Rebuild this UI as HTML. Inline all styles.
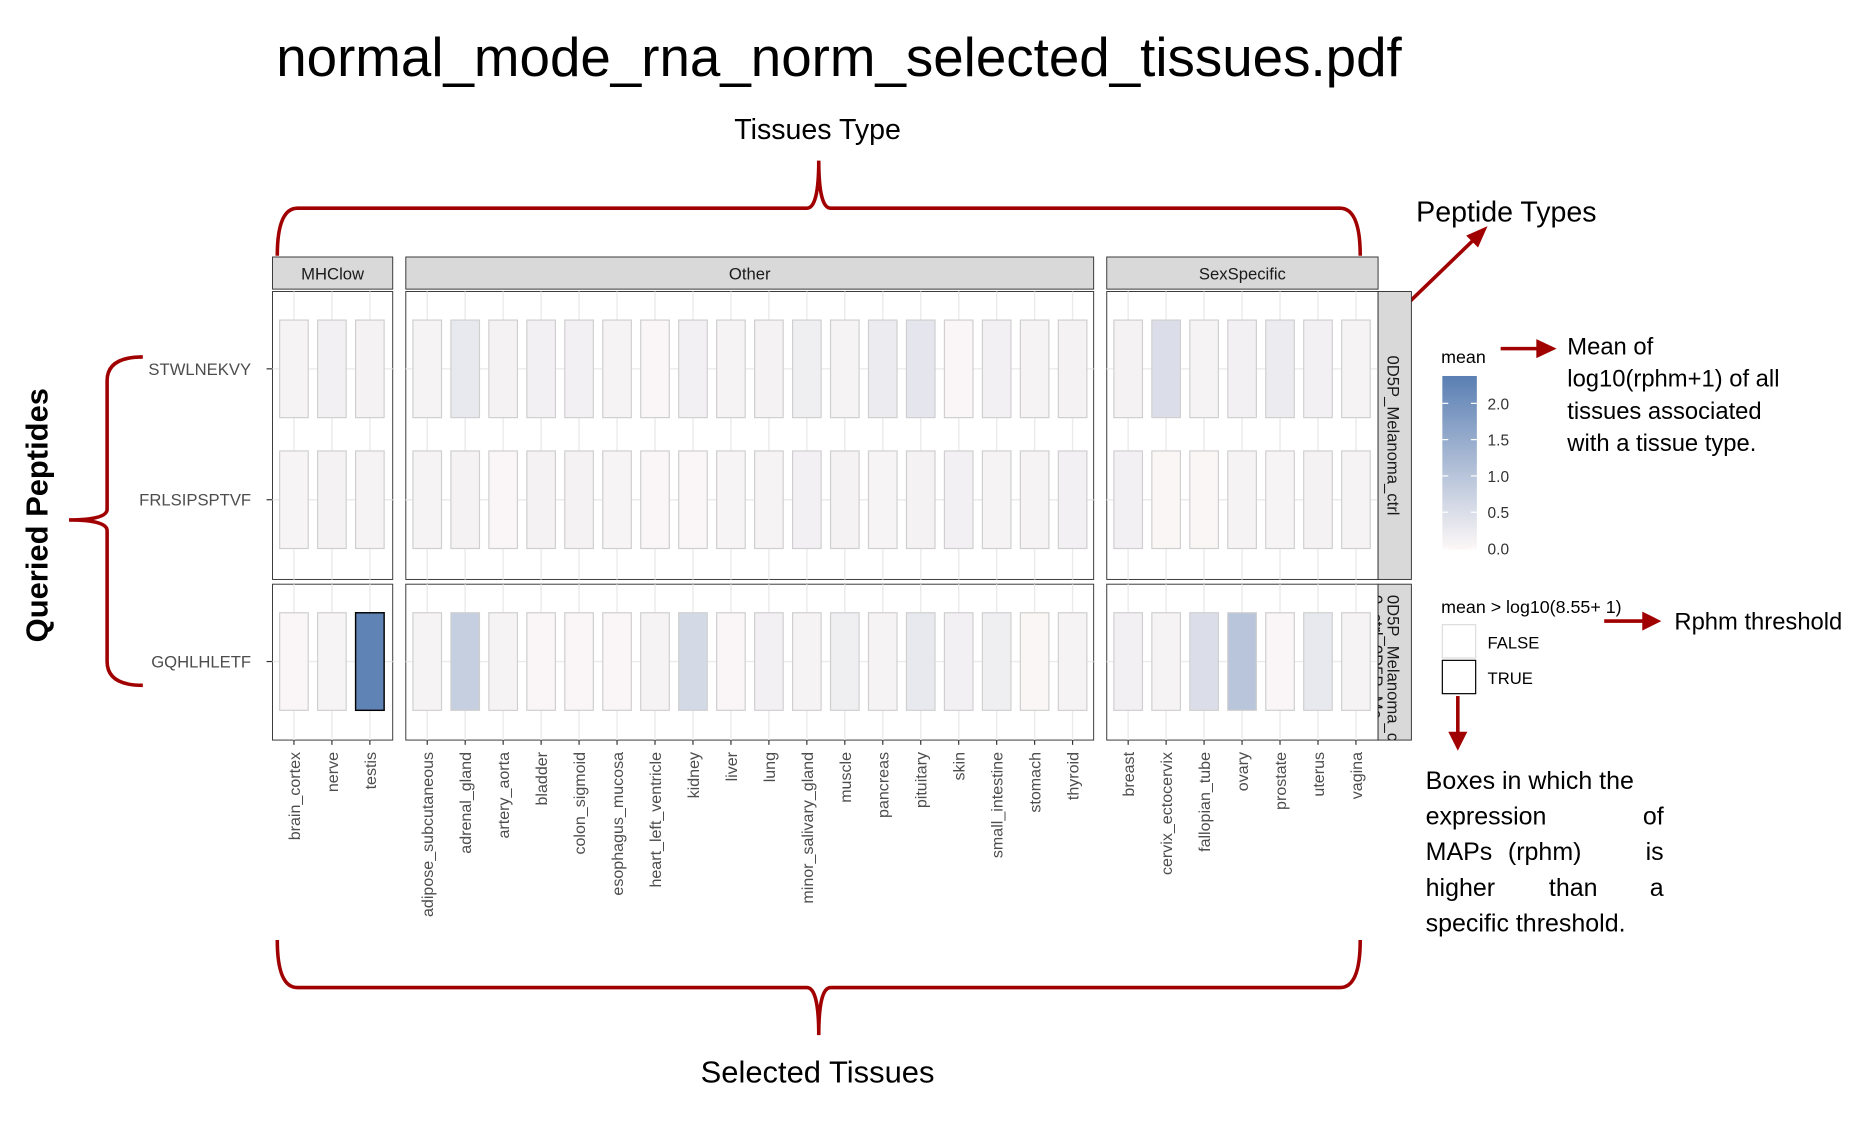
<!DOCTYPE html>
<html><head><meta charset="utf-8"><style>
html,body{margin:0;padding:0;background:#fff;}
svg{display:block;}
.ann{font-family:"Liberation Sans Narrow","Liberation Sans",sans-serif;fill:#000;}
.ax{font-family:"Liberation Sans",sans-serif;fill:#4d4d4d;}
</style></head><body>
<svg id="chart" width="1866" height="1122" viewBox="0 0 1568 943" preserveAspectRatio="none" xmlns="http://www.w3.org/2000/svg">
<defs>
<linearGradient id="grad" x1="0" y1="1" x2="0" y2="0">
<stop offset="0" stop-color="#fdf8f7"/><stop offset="1" stop-color="#5a7fb3"/>
</linearGradient>
</defs>
<text class="ann" x="705" y="64" font-size="46" text-anchor="middle">normal_mode_rna_norm_selected_tissues.pdf</text>
<text class="ann" x="687" y="117" font-size="24" text-anchor="middle">Tissues Type</text>
<path d="M233,215 Q233,175 250,175 L678,175 Q688,175 688,135 Q688,175 698,175 L1126,175 Q1143,175 1143,215" fill="none" stroke="#a00000" stroke-width="3"/>
<text class="ann" x="1190" y="186" font-size="24">Peptide Types</text>
<g><line x1="1182" y1="256" x2="1242" y2="198" stroke="#a00000" stroke-width="3"/><polygon points="1250,190 1232,198 1242,208" fill="#a00000"/></g>
<text class="ann" transform="translate(40,433) rotate(-90)" font-size="26" text-anchor="middle" font-weight="bold" style="font-family:'Liberation Sans',sans-serif">Queried Peptides</text>
<path d="M120,300 Q90,300 90,320 L90,428 Q90,437 58,437 Q90,437 90,446 L90,556 Q90,576 120,576" fill="none" stroke="#a00000" stroke-width="3"/>
<path d="M233,790 Q233,830 250,830 L678,830 Q688,830 688,870 Q688,830 698,830 L1126,830 Q1143,830 1143,790" fill="none" stroke="#a00000" stroke-width="3"/>
<text class="ann" x="687" y="910" font-size="26" text-anchor="middle">Selected Tissues</text>
<g id="plot"></g>
<g>
<text class="ax" x="1211" y="305" font-size="15" style="fill:#000">mean</text>
<rect x="1212" y="316" width="29" height="146" fill="url(#grad)"/>
<g id="cbticks"></g>
</g>
<g><line x1="1261" y1="293" x2="1293" y2="293" stroke="#a00000" stroke-width="3"/><polygon points="1308,293 1291,285 1291,301" fill="#a00000"/></g>
<g class="ann" font-size="20">
<text x="1317" y="298">Mean of</text><text x="1317" y="325">log10(rphm+1) of all</text><text x="1317" y="352">tissues associated</text><text x="1317" y="379">with a tissue type.</text></g>
<g>
<text x="1211" y="515" font-size="15" style="font-family:'Liberation Sans',sans-serif">mean &gt; log10(8.55+ 1)</text>
<rect x="1212" y="525" width="28" height="28" fill="#fff" stroke="#ddd"/>
<rect x="1212" y="555" width="28" height="28" fill="#fff" stroke="#000"/>
<text x="1250" y="545" font-size="14" style="font-family:'Liberation Sans',sans-serif">FALSE</text>
<text x="1250" y="575" font-size="14" style="font-family:'Liberation Sans',sans-serif">TRUE</text>
</g>
<g><line x1="1348" y1="522" x2="1382" y2="522" stroke="#a00000" stroke-width="3"/><polygon points="1396,522 1380,514 1380,530" fill="#a00000"/></g>
<text class="ann" x="1407" y="529" font-size="20">Rphm threshold</text>
<g><line x1="1225" y1="585" x2="1225" y2="617" stroke="#a00000" stroke-width="3"/><polygon points="1225,631 1217,615 1233,615" fill="#a00000"/></g>
<g class="ann" font-size="21">
<text x="1198" y="663">Boxes in which the</text>
<text x="1198" y="693">expression</text><text x="1398" y="693" text-anchor="end">of</text>
<text x="1198" y="723">MAPs</text><text x="1298" y="723" text-anchor="middle">(rphm)</text><text x="1398" y="723" text-anchor="end">is</text>
<text x="1198" y="753">higher</text><text x="1322" y="753" text-anchor="middle">than</text><text x="1398" y="753" text-anchor="end">a</text>
<text x="1198" y="783">specific threshold.</text></g>
</svg>
<script>
const groups=["MHClow","Other","SexSpecific"];
const tissuesMHC=["brain_cortex","nerve","testis"];
const tissuesOther=["adipose_subcutaneous","adrenal_gland","artery_aorta","bladder","colon_sigmoid","esophagus_mucosa","heart_left_ventricle","kidney","liver","lung","minor_salivary_gland","muscle","pancreas","pituitary","skin","small_intestine","stomach","thyroid"];
const tissuesSex=["breast","cervix_ectocervix","fallopian_tube","ovary","prostate","uterus","vagina"];
const peptides=["STWLNEKVY","FRLSIPSPTVF","GQHLHLETF"];
const meanSTW=[0.1,0.15,0.12, 0.1,0.3,0.12,0.15,0.15,0.1,0.05,0.15,0.1,0.12,0.2,0.1,0.25,0.35,0.05,0.15,0.1,0.12, 0.12,0.5,0.1,0.15,0.25,0.15,0.1];
const meanFRL=[0.08,0.12,0.1, 0.1,0.12,0.05,0.12,0.12,0.08,0.05,0.05,0.08,0.1,0.15,0.12,0.08,0.12,0.15,0.1,0.1,0.15, 0.15,0.03,0.03,0.1,0.08,0.12,0.1];
const meanGQH=[0.05,0.08,2.3, 0.1,0.8,0.1,0.05,0.05,0.05,0.1,0.6,0.05,0.15,0.1,0.2,0.1,0.3,0.15,0.2,0.03,0.1, 0.15,0.1,0.5,1.0,0.05,0.3,0.1];
const trueGQH=[false,false,true, false,false,false,false,false,false,false,false,false,false,false,false,false,false,false,false,false,false, false,false,false,false,false,false,false];
const cbTicks=[0,0.5,1,1.5,2];
const NS="http://www.w3.org/2000/svg";
function mk(tag,attrs,parent){const e=document.createElementNS(NS,tag);for(const k in attrs)e.setAttribute(k,attrs[k]);parent.appendChild(e);return e;}
const plot=document.getElementById('plot');
const panels=[{x0:229,x1:330,t:tissuesMHC},{x0:341,x1:919,t:tissuesOther},{x0:930,x1:1158,t:tissuesSex}];
const rowsP=[{y0:245,y1:487,ys:[310,420]},{y0:491,y1:622,ys:[556]}];
const colStep=31.9,firstOff=18,boxW=24,boxH=82;
const vmax=2.37;
function col(v){const t=Math.max(0,Math.min(1,v/vmax));const a=[253,248,247],b=[90,127,179];return `rgb(${a.map((c,i)=>Math.round(c+(b[i]-c)*t)).join(',')})`;}
const data=[meanSTW,meanFRL,meanGQH];
let offsets=[0,3,21];
panels.forEach((p,pi)=>{
  const s=mk('rect',{x:p.x0,y:216,width:p.x1-p.x0,height:27,fill:'#d9d9d9',stroke:'#333','stroke-width':0.8},plot);
  
  
  const st=mk('text',{x:(p.x0+p.x1)/2,y:235,'font-size':14,'text-anchor':'middle',class:'ax',style:'fill:#1a1a1a'},plot);st.textContent=groups[pi];
  
  
  rowsP.forEach((r,ri)=>{
    const pr=mk('rect',{x:p.x0,y:r.y0,width:p.x1-p.x0,height:r.y1-r.y0,fill:'#fff',stroke:'#333','stroke-width':0.8},plot);
    
    
    p.t.forEach((t,ci)=>{const cx=p.x0+firstOff+ci*colStep;mk('line',{x1:cx,x2:cx,y1:r.y0,y2:r.y1,stroke:'#ebebeb','stroke-width':1.2},plot);});
    r.ys.forEach(y=>mk('line',{x1:p.x0,x2:p.x1,y1:y,y2:y,stroke:'#ebebeb','stroke-width':1.2},plot));
    r.ys.forEach((y,k)=>{
      const pidx=ri===0?k:2;
      p.t.forEach((t,ci)=>{
        const v=data[pidx][offsets[pi]+ci];
        const tr=pidx===2&&trueGQH[offsets[pi]+ci];
        const cx=p.x0+firstOff+ci*colStep;
        const b=mk('rect',{x:cx-boxW/2,y:y-boxH/2,width:boxW,height:boxH,fill:col(v),stroke:tr?'#000':'#cfcfcf','stroke-width':tr?1.2:1},plot);
        
        
      });
    });
  });
  p.t.forEach((t,ci)=>{
    const cx=p.x0+firstOff+ci*colStep;
    mk('line',{x1:cx,x2:cx,y1:622,y2:626,stroke:'#333'},plot);
    const tx=mk('text',{transform:`translate(${cx+5},632) rotate(-90)`,'font-size':13.5,'text-anchor':'end',class:'ax'},plot);tx.textContent=t;
    
    
  });
});
[[245,487],[491,622]].forEach((r,ri)=>{
  const s=mk('rect',{x:1158,y:r[0],width:28,height:r[1]-r[0],fill:'#d9d9d9',stroke:'#333','stroke-width':0.8},plot);
  
  
});
const cp=mk('clipPath',{id:'cp2'},plot);mk('rect',{x:1158,y:491,width:28,height:131},cp);
const rs1=mk('text',{transform:'translate(1166,366) rotate(90)','font-size':14,'text-anchor':'middle',class:'ax',style:'fill:#1a1a1a'},plot);rs1.textContent='0D5P_Melanoma_ctrl';


const g2=mk('g',{'clip-path':'url(#cp2)'},plot);
const rs2=mk('text',{transform:'translate(1166,500) rotate(90)','font-size':14,class:'ax',style:'fill:#1a1a1a'},g2);rs2.textContent='0D5P_Melanoma_ctrl';


const rs3=mk('text',{transform:'translate(1152,500) rotate(90)','font-size':14,class:'ax',style:'fill:#1a1a1a'},g2);rs3.textContent='0_ctrl_0D5P_Me';
const yl=[310,420,556];
peptides.forEach((p,i)=>{
  mk('line',{x1:224,x2:229,y1:yl[i],y2:yl[i],stroke:'#333'},plot);
  const t=mk('text',{x:211,y:yl[i]+5,'font-size':14,'text-anchor':'end',class:'ax'},plot);t.textContent=p;
  
  
});
const cb=document.getElementById('cbticks');
cbTicks.forEach(v=>{
  const y=461-v*61;
  mk('line',{x1:1212,x2:1217,y1:y,y2:y,stroke:'#fff'},cb);mk('line',{x1:1236,x2:1241,y1:y,y2:y,stroke:'#fff'},cb);
  const t=mk('text',{x:1250,y:y+5,'font-size':13,class:'ax',style:'fill:#333'},cb);t.textContent=v.toFixed(1);
  
  
});
</script>
</body></html>
